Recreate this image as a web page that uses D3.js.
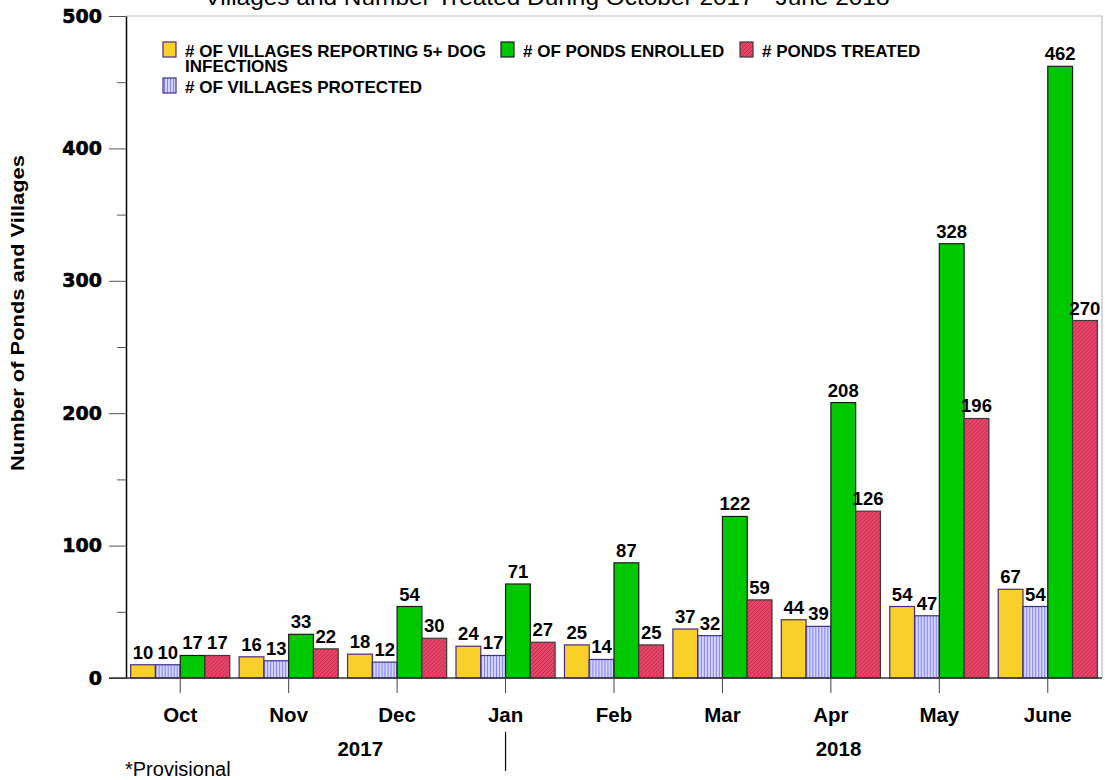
<!DOCTYPE html>
<html>
<head>
<meta charset="utf-8">
<script src="https://cdn.jsdelivr.net/npm/d3@7"></script>
<style>
    body { margin: 0; background: #fff; }
    svg { display: block; }
</style>
</head>
<body>
<svg id="chart" width="1105" height="780"></svg>
<script>
const months = ["Oct", "Nov", "Dec", "Jan", "Feb", "Mar", "Apr", "May", "June"];
const seriesKeys = ["reporting", "protected", "enrolled", "treated"];
const villagesReporting = [10, 16, 18, 24, 25, 37, 44, 54, 67];
const villagesProtected = [10, 13, 12, 17, 14, 32, 39, 47, 54];
const pondsEnrolled = [17, 33, 54, 71, 87, 122, 208, 328, 462];
const pondsTreated = [17, 22, 30, 27, 25, 59, 126, 196, 270];
const yTicks = [0, 100, 200, 300, 400, 500];
const yMinorTicks = [50, 150, 250, 350, 450];
// year labels sit under a month, shifted by a fraction of a month step
const years = [{ label: "2017", at: "Nov", shift: 0.66 }, { label: "2018", at: "Apr", shift: 0.07 }];

const svg = d3.select("svg#chart");
const margin = { top: 16, right: 3, bottom: 102, left: 126 };
const width = +svg.attr("width");
const height = +svg.attr("height");
const chartWidth = width - margin.left - margin.right;
const chartHeight = height - margin.top - margin.bottom;

const arial = "'Liberation Sans', Arial, sans-serif";

const rows = months.map((m, i) => ({
    month: m,
    reporting: villagesReporting[i],
    protected: villagesProtected[i],
    enrolled: pondsEnrolled[i],
    treated: pondsTreated[i]
}));

// patterns for hatched bars
const defs = svg.append("defs");
const blueP = defs.append("pattern").attr("id", "blueStripe")
    .attr("patternUnits", "userSpaceOnUse").attr("width", 3).attr("height", 3);
blueP.append("rect").attr("width", 3).attr("height", 3).attr("fill", "#d4d4ff");
blueP.append("rect").attr("x", 1).attr("width", 1).attr("height", 3).attr("fill", "#8484f4");

const redP = defs.append("pattern").attr("id", "redHatch")
    .attr("patternUnits", "userSpaceOnUse").attr("width", 4).attr("height", 4);
redP.append("rect").attr("width", 4).attr("height", 4).attr("fill", "#e5476a");
redP.append("path").attr("d", "M0,4 L4,0 M-1,1 L1,-1 M3,5 L5,3")
    .attr("stroke", "#c9284c").attr("stroke-width", 1);

const fills = {
    reporting: "#f9d02a",
    protected: "url(#blueStripe)",
    enrolled: "#00c800",
    treated: "url(#redHatch)"
};
const strokes = {
    reporting: "#4a2a82",
    protected: "#3b2f8f",
    enrolled: "#1a1a1a",
    treated: "#3a3a3a"
};

// scales
const xScale = d3.scaleBand().domain(months).range([0, chartWidth])
    .paddingInner(0.086).paddingOuter(0.043);
const innerScale = d3.scaleBand().domain(seriesKeys).range([0, xScale.bandwidth()]);
const yScale = d3.scaleLinear().domain([0, 500]).range([chartHeight, 0]);
const center = m => xScale(m) + xScale.bandwidth() / 2;

const chartArea = svg.append("g").attr("transform", `translate(${margin.left},${margin.top})`);
const annotations = svg.append("g").attr("id", "annotations");

// frame (light gray top + right)
chartArea.append("path")
    .attr("d", `M0,0 H${chartWidth} V${chartHeight}`)
    .attr("fill", "none").attr("stroke", "#bdbdbd").attr("stroke-width", 1.2);

// bars
const groups = chartArea.selectAll("g.month").data(rows).join("g")
    .attr("class", "month")
    .attr("transform", d => `translate(${xScale(d.month)},0)`);

groups.selectAll("rect.bar")
    .data(d => seriesKeys.map(k => ({ key: k, value: d[k] })))
    .join("rect").attr("class", "bar")
    .attr("x", d => innerScale(d.key))
    .attr("y", d => yScale(d.value))
    .attr("width", innerScale.bandwidth())
    .attr("height", d => yScale(0) - yScale(d.value))
    .attr("fill", d => fills[d.key])
    .attr("stroke", d => strokes[d.key])
    .attr("stroke-width", 1.2);

groups.selectAll("text.val")
    .data(d => seriesKeys.map(k => ({ key: k, value: d[k] })))
    .join("text").attr("class", "val")
    .attr("x", d => innerScale(d.key) + innerScale.bandwidth() / 2)
    .attr("y", d => yScale(d.value) - 6)
    .attr("text-anchor", "middle")
    .attr("font-family", arial).attr("font-weight", "bold").attr("font-size", 18.5)
    .text(d => d.value);

// y axis
const leftAxis = d3.axisLeft(yScale).tickValues(yTicks).tickSize(17).tickSizeOuter(0).tickPadding(7);
const yAxisG = chartArea.append("g").attr("class", "y axis").call(leftAxis);
yAxisG.select(".domain").attr("stroke", "#000").attr("stroke-width", 1.5);
yAxisG.selectAll(".tick line").attr("stroke", "#555");
yAxisG.selectAll(".tick text")
    .attr("font-family", "'DejaVu Sans', Verdana, sans-serif")
    .attr("font-weight", "bold").attr("font-size", 19).attr("fill", "#000")
    .attr("stroke", "#000").attr("stroke-width", 0.6);
const minorAxis = d3.axisLeft(yScale).tickValues(yMinorTicks).tickSize(9).tickFormat("");
const minorG = chartArea.append("g").attr("class", "y minor").call(minorAxis);
minorG.select(".domain").remove();
minorG.selectAll(".tick line").attr("stroke", "#555");

// x axis
const bottomAxis = d3.axisBottom(xScale).tickSize(15).tickSizeOuter(0).tickPadding(14);
const xAxisG = chartArea.append("g").attr("class", "x axis")
    .attr("transform", `translate(0,${chartHeight})`).call(bottomAxis);
xAxisG.select(".domain").attr("stroke", "#333").attr("stroke-width", 1.5)
    .attr("d", `M-17,0H${chartWidth}`);
xAxisG.selectAll(".tick line").attr("stroke", "#444");
xAxisG.selectAll(".tick text")
    .attr("font-family", arial).attr("font-weight", "bold").attr("font-size", 20.5).attr("fill", "#000");

// years
chartArea.selectAll("text.year").data(years).join("text").attr("class", "year")
    .attr("x", d => center(d.at) + d.shift * xScale.step())
    .attr("y", chartHeight + 78)
    .attr("text-anchor", "middle")
    .attr("font-family", arial).attr("font-weight", "bold").attr("font-size", 20.5)
    .text(d => d.label);
chartArea.append("line")
    .attr("x1", center("Jan")).attr("x2", center("Jan"))
    .attr("y1", chartHeight + 54).attr("y2", chartHeight + 93)
    .attr("stroke", "#000").attr("stroke-width", 1.2);

// title (cut off at top)
annotations.append("text")
    .attr("x", 547).attr("y", 5)
    .attr("text-anchor", "middle")
    .attr("font-family", arial).attr("font-size", 22)
    .attr("textLength", 685).attr("lengthAdjust", "spacingAndGlyphs")
    .text("Villages and Number Treated During October 2017 - June 2018");

// y label
annotations.append("text")
    .attr("transform", `translate(24,313) rotate(-90)`)
    .attr("text-anchor", "middle")
    .attr("font-family", arial).attr("font-weight", "bold").attr("font-size", 17.5)
    .attr("textLength", 316).attr("lengthAdjust", "spacingAndGlyphs")
    .text("Number of Ponds and Villages");

// footnote
annotations.append("text")
    .attr("x", 125).attr("y", 776)
    .attr("font-family", arial).attr("font-size", 20)
    .text("*Provisional");

// legend
const legendItems = [
    { key: "reporting", lines: ["# OF VILLAGES REPORTING 5+ DOG", "INFECTIONS"], x: 163, y: 42 },
    { key: "enrolled", lines: ["# OF PONDS ENROLLED"], x: 501, y: 42 },
    { key: "treated", lines: ["# PONDS TREATED"], x: 740, y: 42 },
    { key: "protected", lines: ["# OF VILLAGES PROTECTED"], x: 163, y: 78 }
];
const legend = svg.append("g").attr("class", "legend");
const li = legend.selectAll("g").data(legendItems).join("g")
    .attr("transform", d => `translate(${d.x},${d.y})`);
li.append("rect").attr("width", 13).attr("height", 15)
    .attr("fill", d => fills[d.key]).attr("stroke", d => strokes[d.key]).attr("stroke-width", 1.2);
li.each(function (d) {
    d3.select(this).selectAll("text").data(d.lines).join("text")
        .attr("x", 22).attr("y", (t, i) => 15 + i * 15)
        .attr("font-family", arial).attr("font-weight", "bold").attr("font-size", 17)
        .text(t => t);
});
</script>
</body>
</html>
